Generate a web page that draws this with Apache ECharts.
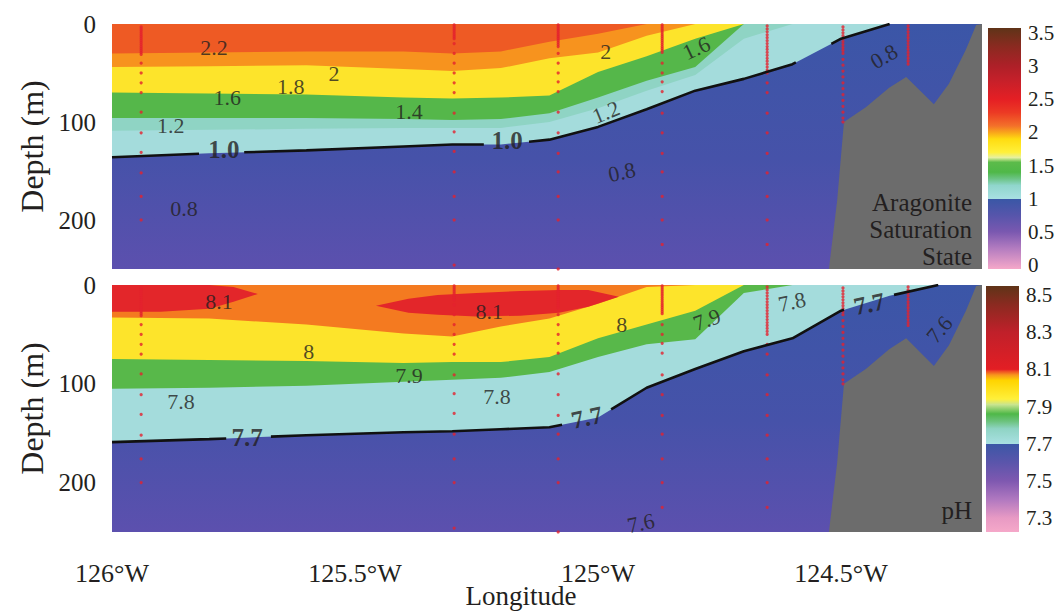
<!DOCTYPE html>
<html>
<head>
<meta charset="utf-8">
<script src="https://cdn.jsdelivr.net/npm/echarts@6/dist/echarts.min.js"></script>
<style>html,body{margin:0;padding:0;background:#fff;}#c{width:1058px;height:615px;}</style>
</head>
<body>
<div id="c"></div>
<script>
// ---------- DATA ----------
const lonGrid = [-126, -125.8, -125.6, -125.4, -125.3, -125.2, -125.1, -125.0, -124.9, -124.8, -124.7, -124.6, -124.5, -124.4, -124.3, -124.21];

// Aragonite saturation state: depth (m) of each contour along lonGrid
const aragDepth10 = [136, 132, 129, 125, 123, 123, 118, 105, 87, 68, 56, 41, 15, 0, 0, 0];
const aragDepth12 = [109, 108, 107, 106, 106, 106, 100, 86, 68, 52, 15, 0, 0, 0, 0, 0];
const aragDepth13 = [96, 96, 96, 97, 98, 97, 91, 75, 58, 44, 0, 0, 0, 0, 0, 0];
const aragDepth16 = [70, 71, 72, 75, 76, 75, 73, 49, 33, 15, 0, 0, 0, 0, 0, 0];
const aragDepth20 = [44, 43, 42, 46, 48, 45, 35, 29, 12, 0, 0, 0, 0, 0, 0, 0];
const aragDepth22 = [30, 29, 28, 28, 30, 28, 18, 10, 0, 0, 0, 0, 0, 0, 0, 0];

// pH: depth (m) of each contour along lonGrid
const phDepth770 = [159, 156, 152, 149, 148, 146, 144, 134, 104, 85, 67, 54, 26, 11, 0, 0];
const phDepth785 = [105, 104, 102, 98, 96, 94, 88, 73, 60, 55, 8, 0, 0, 0, 0, 0];
const phDepth795 = [75, 76, 77, 79, 78, 78, 73, 54, 40, 26, 0, 0, 0, 0, 0, 0];
const phDepth805 = [33, 34, 40, 49, 52, 42, 34, 19, 2, 0, 0, 0, 0, 0, 0, 0];
// pH > 8.1 patches
const phLensALon = [-126, -125.9, -125.8, -125.75, -125.7];
const phLensATop = [0, 0, 0, 2, 9];
const phLensABot = [27, 27, 24, 17, 9];
const phLensBLon = [-125.457, -125.39, -125.33, -125.25, -125.16, -125.08, -125.02, -124.957];
const phLensBTop = [21, 14, 10, 8, 6, 5, 5, 12];
const phLensBBot = [21, 28, 30, 32, 31, 28, 22, 12];

// Seafloor
const seafloorLon = [-124.525, -124.508, -124.494, -124.449, -124.401, -124.366, -124.309, -124.278, -124.243, -124.222, -124.21];
const seafloorDepth = [250, 180, 100, 85, 65, 54, 82, 61, 26, 1, 0];

// Sampling stations
const stationLon = [-125.94, -125.296, -125.082, -124.868, -124.652, -124.496, -124.362];
const station1Depths = [3,5,7,9,11,13,15,17,19,21,23,25,27,29,31,40,50,60,70,90,111,131,152,176,200];
const station2Depths = [1,3,5,7,9,11,13,15,20,30,40,50,60,70,91,110,130,151,176,200,246];
const station3Depths = [1,3,5,7,9,11,13,15,17,19,21,23,30,40,50,59,69,90,111,132,151,176,200,250];
const station4Depths = [1,3,5,7,9,11,13,15,17,19,21,23,25,27,29,40,50,59,69,91,111,132,151,176,200,225];
const station5Depths = [2,5,8,11,14,17,20,23,26,29,32,35,38,41,44,47,50,60,70,91,111,132,152,176,200,225];
const station6Depths = [3,6,9,12,15,18,21,24,27,30,36,42,48,54,60,66,72,78,84,90,96,100];
const station7Depths = [2,5,8,11,14,17,20,23,26,29,32,35,38,41];

// Contour labels
const aragLabelText = ['2.2','2','1.8','1.6','1.4','1.2','1.0','1.0','0.8','2','1.6','1.2','0.8','0.8'];
const aragLabelLon = [-125.790,-125.543,-125.632,-125.763,-125.389,-125.879,-125.770,-125.187,-125.852,-124.984,-124.798,-124.984,-124.951,-124.412];
const aragLabelDepth = [23.5,51,64,75.5,89,104,128.5,119,188,28.5,24.5,90,151,33];
const aragLabelRotate = [0,0,0,0,0,0,0,0,0,0,25,22,12,30];
const phLabelText = ['8.1','8.1','8','7.9','7.8','7.7','8','7.8','7.7','7.6','7.9','7.8','7.7','7.6'];
const phLabelLon = [-125.780,-125.224,-125.595,-125.389,-125.858,-125.722,-124.951,-125.208,-125.023,-124.912,-124.776,-124.601,-124.442,-124.298];
const phLabelDepth = [17,27,67,92,118,154,40,113,134,241,35,17,19,45];
const phLabelRotate = [0,0,0,0,0,0,0,0,12,12,20,12,12,50];
const aragLineGaps = [[-125.821, -125.728], [-125.235, -125.142], [-124.593, -124.520]];
const phLineGaps = [[-125.765, -125.673], [-125.074, -124.973], [-124.494, -124.391]];

// Axis ticks
const xTickValues = [-126, -125.5, -125, -124.5];
const xTickLabels = ['126°W', '125.5°W', '125°W', '124.5°W'];
const depthTickValues = [0, 100, 200];
const aragTickLabels = ['0', '0.5', '1', '1.5', '2', '2.5', '3', '3.5'];
const phTickLabels = ['7.3', '7.5', '7.7', '7.9', '8.1', '8.3', '8.5'];

// Colour bars
const aragCbValues = [-0.06, 0.25, 0.5, 0.75, 0.99, 1.0, 1.2, 1.3, 1.4, 1.55, 1.62, 1.7, 1.9, 2.0, 2.1, 2.3, 2.5, 2.8, 3.0, 3.3, 3.575];
const aragCbColors = ['#f5a8c9','#b37cc0','#7a58b0','#5655ab','#3a57a6','#a8e0e2','#90d6cc','#6cc486','#4fb848','#5cbb4a','#e6f0a0','#fff03a','#ffdc10','#f9a51b','#f3702a','#ec3a24','#e51f24','#c4202a','#ae2028','#8a2a20','#5f3418'];
const phCbValues = [7.225, 7.3, 7.4, 7.5, 7.6, 7.699, 7.7, 7.78, 7.82, 7.86, 7.91, 7.94, 8.04, 8.07, 8.09, 8.1, 8.3, 8.45, 8.548];
const phCbColors = ['#f5a8c9','#e89ac4','#b078c0','#7e58b0','#5a55ab','#3b57a6','#a8e0e2','#8fd4c4','#6cc37e','#4fb848','#c8e490','#fff03a','#ffd400','#f7941d','#ef4a24','#e31e24','#c0202a','#8a2a20','#5f3418'];

// ---------- STYLE ----------
const SERIF = "'Liberation Serif','Times New Roman',serif";
const TXT = '#231f20';
const aragFill = {c10: '#a4dcdc', c12: '#8fd4c4', c13: '#55b74a', c16: '#fde42b', c20: '#f7931e', c22: '#ee5a24'};
const phFill = {c770: '#a4dcdc', c785: '#58b84a', c795: '#fde42b', c805: '#f47a20', c810: '#e3262a'};
const GREY = '#6c6c6c';
const DOT = '#e4222e';

const chart = echarts.init(document.getElementById('c'), null, {renderer: 'svg'});

function polySeries(idx, pts, fill, clip) {
  return {
    type: 'custom', xAxisIndex: idx, yAxisIndex: idx, silent: true, clip: clip !== false,
    data: [[-125, 100]],
    renderItem: (params, api) => ({
      type: 'polygon',
      shape: {points: pts.map(p => api.coord(p))},
      style: {fill: fill}
    })
  };
}
function areaAbove(lons, deps) {
  const top = lons.map(l => [l, 0]);
  const bot = lons.map((l, i) => [l, deps[i]]).reverse();
  return top.concat(bot);
}
function lens(lons, tops, bots) {
  const a = lons.map((l, i) => [l, tops[i]]);
  const b = lons.map((l, i) => [l, bots[i]]).reverse();
  return a.concat(b);
}
function seafloorPts() {
  const p = seafloorLon.map((l, i) => [l, seafloorDepth[i]]);
  p.push([-124.21, 250]);
  return p;
}
function baseRect() {
  return [[-126, 0], [-124.21, 0], [-124.21, 250], [-126, 250]];
}
const baseGrad = new echarts.graphic.LinearGradient(0, 0, 0, 1, [
  {offset: 0, color: '#3b56a7'}, {offset: 0.55, color: '#4652a9'}, {offset: 1, color: '#5c50ae'}
]);
function gappedLine(lons, deps, gaps) {
  const end = deps.findIndex((d, i) => i > 0 && d <= 0);
  const L = end < 0 ? lons.length : end + 1;
  const xs = lons.slice(0, L), ds = deps.slice(0, L);
  const set = new Set(xs);
  gaps.forEach(g => {
    [g[0], g[1], (g[0] + g[1]) / 2].forEach(v => { if (v > xs[0] && v < xs[L - 1]) set.add(v); });
  });
  const all = [...set].sort((a, b) => a - b);
  const interp = l => {
    for (let i = 1; i < L; i++) {
      if (l <= xs[i]) { const t = (l - xs[i - 1]) / (xs[i] - xs[i - 1]); return ds[i - 1] + t * (ds[i] - ds[i - 1]); }
    }
    return ds[L - 1];
  };
  return all.map(l => gaps.some(g => l > g[0] + 1e-9 && l < g[1] - 1e-9) ? [l, '-'] : [l, interp(l)]);
}
function contourLine(idx, lons, deps, gaps) {
  return {
    type: 'line', xAxisIndex: idx, yAxisIndex: idx, data: gappedLine(lons, deps, gaps),
    showSymbol: false, symbol: 'none', connectNulls: false, silent: true,
    lineStyle: {color: '#111', width: 2.6}
  };
}
function labelSeries(idx, lons, deps, texts, rots) {
  return {
    type: 'scatter', xAxisIndex: idx, yAxisIndex: idx, symbolSize: 1, silent: true,
    itemStyle: {color: 'rgba(0,0,0,0)'},
    label: {show: true, position: 'inside', color: TXT, fontFamily: SERIF, fontSize: 22},
    data: lons.map((l, i) => {
      const bold = texts[i] === '1.0' || texts[i] === '7.7';
      return {
        value: [l, deps[i]],
        label: {formatter: texts[i], rotate: rots[i], fontWeight: bold ? 'bold' : 'normal', fontSize: bold ? 25 : 22}
      };
    })
  };
}
const stationDepths = [station1Depths, station2Depths, station3Depths, station4Depths, station5Depths, station6Depths, station7Depths];
function stationSeries(idx) {
  const data = [];
  stationLon.forEach((l, i) => stationDepths[i].forEach(d => data.push([l, d])));
  return {
    type: 'scatter', xAxisIndex: idx, yAxisIndex: idx, symbolSize: 3.2, silent: true,
    itemStyle: {color: DOT}, data: data
  };
}
function colorbarSeries(idx, values, colors) {
  const lo = values[0], hi = values[values.length - 1];
  const stops = values.map((v, i) => ({offset: (hi - v) / (hi - lo), color: colors[i]})).reverse();
  return {
    type: 'custom', xAxisIndex: idx, yAxisIndex: idx, silent: true, clip: false,
    data: [[0.5, lo]],
    renderItem: (params, api) => {
      const a = api.coord([0, hi]), b = api.coord([1, lo]);
      return {
        type: 'rect', shape: {x: a[0], y: a[1], width: b[0] - a[0], height: b[1] - a[1]},
        style: {fill: new echarts.graphic.LinearGradient(0, 0, 0, 1, stops)}
      };
    }
  };
}

const lonMin = -126, lonMax = -124.21;
function hiddenX(gi) {
  return {gridIndex: gi, type: 'value', min: lonMin, max: lonMax, show: false};
}
function depthY(gi) {
  return {
    gridIndex: gi, type: 'value', inverse: true, min: 0, max: 250, interval: 100,
    axisLine: {show: false}, axisTick: {show: false}, splitLine: {show: false},
    axisLabel: {
      fontFamily: SERIF, fontSize: 25, color: TXT, margin: 16,
      formatter: v => depthTickValues.indexOf(v) >= 0 ? String(v) : ''
    },
    name: 'Depth (m)', nameLocation: 'middle', nameGap: 64, nameRotate: 90, nameMoveOverlap: false,
    nameTextStyle: {fontFamily: SERIF, fontSize: 32, color: TXT}
  };
}

const option = {
  animation: false,
  backgroundColor: '#fff',
  grid: [
    {left: 112, top: 24, width: 870, height: 245, outerBoundsMode: 'none', containLabel: false},
    {left: 112, top: 285, width: 870, height: 247, outerBoundsMode: 'none', containLabel: false},
    {left: 988, top: 33, width: 33, height: 232, outerBoundsMode: 'none', containLabel: false},
    {left: 986, top: 295, width: 33, height: 223, outerBoundsMode: 'none', containLabel: false}
  ],
  xAxis: [
    hiddenX(0),
    {
      gridIndex: 1, type: 'value', min: lonMin, max: lonMax, interval: 0.5,
      axisLine: {show: false}, axisTick: {show: false}, splitLine: {show: false},
      axisLabel: {
        fontFamily: SERIF, fontSize: 26, color: TXT, margin: 28, showMaxLabel: false,
        formatter: v => { const i = xTickValues.findIndex(t => Math.abs(t - v) < 1e-6); return i >= 0 ? xTickLabels[i] : ''; }
      },
      name: 'Longitude', nameLocation: 'middle', nameGap: 50, nameMoveOverlap: false,
      nameTextStyle: {fontFamily: SERIF, fontSize: 27, color: TXT, padding: [0, 52, 0, 0]}
    },
    {gridIndex: 2, type: 'value', min: 0, max: 1, show: false},
    {gridIndex: 3, type: 'value', min: 0, max: 1, show: false}
  ],
  yAxis: [
    depthY(0),
    depthY(1),
    {
      gridIndex: 2, type: 'value', position: 'right', min: 0, max: 3.5, interval: 0.5,
      axisLine: {show: false}, axisTick: {show: false}, splitLine: {show: false},
      axisLabel: {fontFamily: SERIF, fontSize: 21, color: TXT, margin: 7,
        formatter: v => aragTickLabels[Math.round(v / 0.5)] || ''}
    },
    {
      gridIndex: 3, type: 'value', position: 'right', min: 7.3, max: 8.5, interval: 0.2,
      axisLine: {show: false}, axisTick: {show: false}, splitLine: {show: false},
      axisLabel: {fontFamily: SERIF, fontSize: 21, color: TXT, margin: 7,
        formatter: v => phTickLabels[Math.round((v - 7.3) / 0.2)] || ''}
    }
  ],
  series: [
    // ---- top panel: aragonite ----
    polySeries(0, baseRect(), baseGrad),
    polySeries(0, areaAbove(lonGrid, aragDepth10), aragFill.c10),
    polySeries(0, areaAbove(lonGrid, aragDepth12), aragFill.c12),
    polySeries(0, areaAbove(lonGrid, aragDepth13), aragFill.c13),
    polySeries(0, areaAbove(lonGrid, aragDepth16), aragFill.c16),
    polySeries(0, areaAbove(lonGrid, aragDepth20), aragFill.c20),
    polySeries(0, areaAbove(lonGrid, aragDepth22), aragFill.c22),
    polySeries(0, seafloorPts(), GREY),
    contourLine(0, lonGrid, aragDepth10, aragLineGaps),
    labelSeries(0, aragLabelLon, aragLabelDepth, aragLabelText, aragLabelRotate),
    stationSeries(0),
    // ---- bottom panel: pH ----
    polySeries(1, baseRect(), baseGrad),
    polySeries(1, areaAbove(lonGrid, phDepth770), phFill.c770),
    polySeries(1, areaAbove(lonGrid, phDepth785), phFill.c785),
    polySeries(1, areaAbove(lonGrid, phDepth795), phFill.c795),
    polySeries(1, areaAbove(lonGrid, phDepth805), phFill.c805),
    polySeries(1, lens(phLensALon, phLensATop, phLensABot), phFill.c810),
    polySeries(1, lens(phLensBLon, phLensBTop, phLensBBot), phFill.c810),
    polySeries(1, seafloorPts(), GREY),
    contourLine(1, lonGrid, phDepth770, phLineGaps),
    labelSeries(1, phLabelLon, phLabelDepth, phLabelText, phLabelRotate),
    stationSeries(1),
    // ---- colour bars ----
    colorbarSeries(2, aragCbValues, aragCbColors),
    colorbarSeries(3, phCbValues, phCbColors)
  ],
  graphic: [
    {type: 'text', x: 972, y: 229, z: 100, silent: true,
      style: {text: 'Aragonite\nSaturation\nState', font: '25px ' + SERIF, fill: TXT, align: 'right', verticalAlign: 'middle', lineHeight: 27}},
    {type: 'text', x: 972, y: 510, z: 100, silent: true,
      style: {text: 'pH', font: '25px ' + SERIF, fill: TXT, align: 'right', verticalAlign: 'middle'}}
  ]
};
chart.setOption(option);
</script>
</body>
</html>
